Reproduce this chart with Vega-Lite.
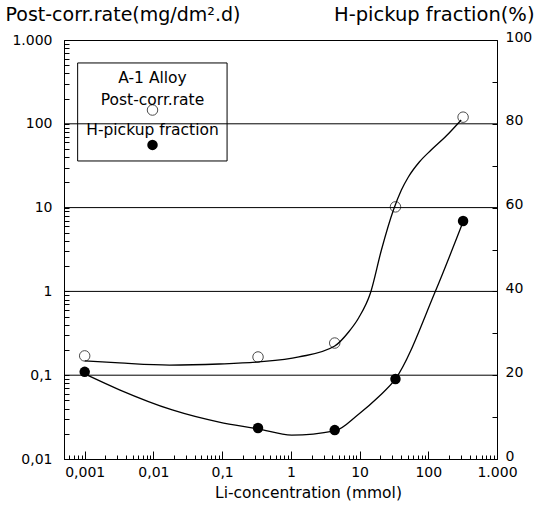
{
  "$schema": "https://vega.github.io/schema/vega-lite/v6.json",
  "width": 433,
  "height": 419,
  "autosize": {"type": "none"},
  "padding": {"left": 64, "top": 40, "right": 40, "bottom": 51},
  "background": "white",
  "config": {
    "view": {"stroke": "black", "strokeWidth": 1},
    "axis": {"domainColor": "black", "tickColor": "black", "labelColor": "black", "titleColor": "black", "labelFont": "DejaVu Sans", "titleFont": "DejaVu Sans", "titleFontWeight": "normal", "grid": false}
  },
  "datasets": {
    "ptsRate": [
      {"x": 0.001, "rate": 0.17},
      {"x": 0.333, "rate": 0.165},
      {"x": 4.35, "rate": 0.242},
      {"x": 33.3, "rate": 10.2},
      {"x": 321, "rate": 120}
    ],
    "ptsPct": [
      {"x": 0.001, "pct": 20.8},
      {"x": 0.333, "pct": 7.4},
      {"x": 4.35, "pct": 6.9},
      {"x": 33.3, "pct": 19.1},
      {"x": 321, "pct": 56.8}
    ],
    "curveRate": [
      {"x": 0.001, "rate": 0.148},
      {"x": 0.00321, "rate": 0.14},
      {"x": 0.0171, "rate": 0.132},
      {"x": 0.0906, "rate": 0.136},
      {"x": 0.344, "rate": 0.144},
      {"x": 1.31, "rate": 0.165},
      {"x": 4.35, "rate": 0.223},
      {"x": 6.93, "rate": 0.328},
      {"x": 9.68, "rate": 0.482},
      {"x": 14.4, "rate": 0.957},
      {"x": 20.8, "rate": 3.12},
      {"x": 31.1, "rate": 9.35},
      {"x": 40.6, "rate": 16.2},
      {"x": 51.3, "rate": 23.2},
      {"x": 74.1, "rate": 35.0},
      {"x": 110, "rate": 48.6},
      {"x": 182, "rate": 71.4},
      {"x": 301, "rate": 111}
    ],
    "curvePct": [
      {"x": 0.001, "pct": 20.3},
      {"x": 0.00321, "pct": 16.5},
      {"x": 0.0188, "pct": 11.7},
      {"x": 0.0906, "pct": 8.8},
      {"x": 0.333, "pct": 7.2},
      {"x": 1.03, "pct": 5.7},
      {"x": 4.35, "pct": 6.7},
      {"x": 9.68, "pct": 10.7},
      {"x": 18.8, "pct": 14.8},
      {"x": 33.3, "pct": 19.1},
      {"x": 126, "pct": 39.9},
      {"x": 321, "pct": 56.6}
    ],
    "grid": [{"g": 0.1}, {"g": 1}, {"g": 10}, {"g": 100}],
    "box": [{"x": 0.00079, "x2": 0.118, "rate": 532, "rate2": 36}],
    "legend": [
      {"kind": "text", "label": "A-1 Alloy", "x": 0.0097, "rate": 352},
      {"kind": "text", "label": "Post-corr.rate", "x": 0.0097, "rate": 192},
      {"kind": "open", "label": "Post-corr.rate", "x": 0.0097, "rate": 146},
      {"kind": "text", "label": "H-pickup fraction", "x": 0.0097, "rate": 84},
      {"kind": "filled", "label": "H-pickup fraction", "x": 0.0097, "rate": 56}
    ]
  },
  "layer": [
    {
      "layer": [
        {
          "data": {"name": "ptsRate"},
          "mark": {"type": "point", "shape": "circle", "filled": false, "stroke": "black", "strokeWidth": 1, "size": 110},
          "encoding": {
            "x": {"field": "x", "type": "quantitative", "scale": {"type": "log", "domain": [0.0005, 1000], "nice": false},
              "axis": {"orient": "bottom", "values": [0.0005,0.0006,0.0007,0.0008,0.0009,0.001,0.002,0.003,0.004,0.005,0.006,0.007,0.008,0.009,0.01,0.02,0.03,0.04,0.05,0.06,0.07,0.08,0.09,0.1,0.2,0.3,0.4,0.5,0.6,0.7,0.8,0.9,1,2,3,4,5,6,7,8,9,10,20,30,40,50,60,70,80,90,100,200,300,400,500,600,700,800,900,1000],
                "labelExpr": "datum.value==1000?'1.000':datum.value==100?'100':datum.value==10?'10':datum.value==1?'1':datum.value==0.1?'0,1':datum.value==0.01?'0,01':datum.value==0.001?'0,001':''",
                "tickSize": {"condition": {"test": "indexof([0.001,0.01,0.1,1,10,100,1000], datum.value) >= 0", "value": -8}, "value": -4},
                "labelPadding": 14, "labelFontSize": 14, "labelFlush": false, "labelOverlap": false,
                "title": "Li-concentration (mmol)", "titleFontSize": 15.5, "titleX": 244, "titleY": 38, "titleAlign": "center", "titleBaseline": "alphabetic"}},
            "y": {"field": "rate", "type": "quantitative", "scale": {"type": "log", "domain": [0.01, 1000], "nice": false},
              "axis": {"orient": "left", "values": [0.01,0.02,0.03,0.04,0.05,0.06,0.07,0.08,0.09,0.1,0.2,0.3,0.4,0.5,0.6,0.7,0.8,0.9,1,2,3,4,5,6,7,8,9,10,20,30,40,50,60,70,80,90,100,200,300,400,500,600,700,800,900,1000],
                "labelExpr": "datum.value==1000?'1.000':datum.value==100?'100':datum.value==10?'10':datum.value==1?'1':datum.value==0.1?'0,1':datum.value==0.01?'0,01':''",
                "tickSize": -5, "labelPadding": 17, "labelFontSize": 14, "labelFlush": false, "labelOverlap": false,
                "title": "Post-corr.rate(mg/dm².d)", "titleFontSize": 19, "titleAngle": 0, "titleAlign": "left", "titleBaseline": "alphabetic", "titleX": -59, "titleY": -20}}
          }
        },
        {
          "data": {"name": "grid"},
          "mark": {"type": "rule", "color": "black", "strokeWidth": 1},
          "encoding": {
            "y": {"field": "g", "type": "quantitative"}
          }
        },
        {
          "data": {"name": "box"},
          "mark": {"type": "rect", "fillOpacity": 0, "stroke": "black", "strokeWidth": 1},
          "encoding": {
            "x": {"field": "x", "type": "quantitative"},
            "x2": {"field": "x2"},
            "y": {"field": "rate", "type": "quantitative"},
            "y2": {"field": "rate2"}
          }
        },
        {
          "data": {"name": "curveRate"},
          "mark": {"type": "line", "color": "black", "strokeWidth": 1.3, "interpolate": "monotone"},
          "encoding": {
            "x": {"field": "x", "type": "quantitative"},
            "y": {"field": "rate", "type": "quantitative"}
          }
        },
        {
          "data": {"name": "legend"},
          "transform": [{"filter": "datum.kind == 'text'"}],
          "mark": {"type": "text", "font": "DejaVu Sans", "fontSize": 15.5, "color": "black", "align": "center", "baseline": "middle"},
          "encoding": {
            "x": {"field": "x", "type": "quantitative"},
            "y": {"field": "rate", "type": "quantitative"},
            "text": {"field": "label"}
          }
        },
        {
          "data": {"name": "legend"},
          "transform": [{"filter": "datum.kind == 'open'"}],
          "mark": {"type": "point", "shape": "circle", "filled": false, "stroke": "black", "strokeWidth": 1, "size": 110},
          "encoding": {
            "x": {"field": "x", "type": "quantitative"},
            "y": {"field": "rate", "type": "quantitative"}
          }
        },
        {
          "data": {"name": "legend"},
          "transform": [{"filter": "datum.kind == 'filled'"}],
          "mark": {"type": "circle", "color": "black", "opacity": 1, "size": 110},
          "encoding": {
            "x": {"field": "x", "type": "quantitative"},
            "y": {"field": "rate", "type": "quantitative"}
          }
        }
      ]
    },
    {
      "layer": [
        {
          "data": {"name": "curvePct"},
          "mark": {"type": "line", "color": "black", "strokeWidth": 1.3, "interpolate": "monotone"},
          "encoding": {
            "x": {"field": "x", "type": "quantitative"},
            "y": {"field": "pct", "type": "quantitative", "scale": {"type": "linear", "domain": [0, 100], "nice": false},
              "axis": {"orient": "right", "values": [0,10,20,30,40,50,60,70,80,90,100],
                "labelExpr": "datum.value % 20 == 0 ? datum.label : ''",
                "tickSize": -5, "labelPadding": 13, "labelFontSize": 14, "labelFlush": false, "labelOverlap": false, "labelOffset": -3,
                "title": "H-pickup fraction(%)", "titleFontSize": 19.5, "titleAngle": 0, "titleAlign": "right", "titleBaseline": "alphabetic", "titleX": 37, "titleY": -20}}
          }
        },
        {
          "data": {"name": "ptsPct"},
          "mark": {"type": "circle", "color": "black", "opacity": 1, "size": 110},
          "encoding": {
            "x": {"field": "x", "type": "quantitative"},
            "y": {"field": "pct", "type": "quantitative"}
          }
        }
      ]
    }
  ],
  "resolve": {"scale": {"y": "independent"}}
}
